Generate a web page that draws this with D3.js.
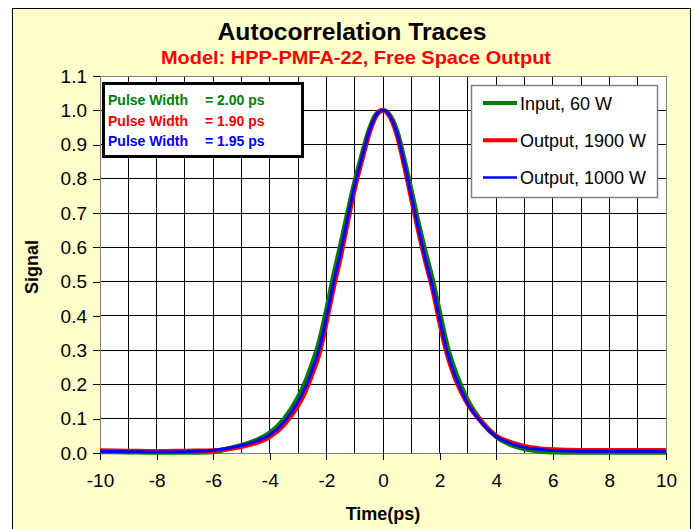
<!DOCTYPE html>
<html>
<head>
<meta charset="utf-8">
<script src="https://cdn.jsdelivr.net/npm/d3@7"></script>
<style>
  body { margin: 0; background: #fff; }
  text { font-family: Arial, 'Liberation Sans', sans-serif; }
</style>
</head>
<body>
<script>
var times = [-10, -9, -8, -7, -6, -5.5, -5, -4.5, -4, -3.5, -3, -2.75, -2.5, -2.25, -2, -1.75, -1.5, -1.25, -1, -0.75, -0.5, -0.25,
    0, 0.25, 0.5, 0.75, 1, 1.25, 1.5, 1.75, 2, 2.25, 2.5, 2.75, 3, 3.5, 4, 4.5, 5, 5.5, 6, 7, 8, 9, 10];

var inputSignal = [0.004, 0.003, 0.002, 0.002, 0.004, 0.012, 0.022, 0.036, 0.058, 0.098, 0.162, 0.205, 0.26, 0.325, 0.415, 0.515, 0.605, 0.70, 0.79, 0.868, 0.94, 0.987,
    1.0, 0.984, 0.937, 0.855, 0.765, 0.67, 0.585, 0.505, 0.41, 0.318, 0.25, 0.196, 0.152, 0.09, 0.048, 0.025, 0.012, 0.006, 0.003, 0.002, 0.002, 0.002, 0.002];

var out1900 = [0.007, 0.006, 0.005, 0.006, 0.007, 0.011, 0.018, 0.029, 0.047, 0.082, 0.138, 0.178, 0.23, 0.29, 0.38, 0.48, 0.57, 0.672, 0.77, 0.852, 0.928, 0.982,
    1.0, 0.98, 0.925, 0.838, 0.742, 0.647, 0.558, 0.478, 0.38, 0.292, 0.228, 0.18, 0.142, 0.088, 0.05, 0.032, 0.02, 0.013, 0.01, 0.008, 0.008, 0.008, 0.008];

var out1000 = [0.005, 0.004, 0.003, 0.004, 0.008, 0.014, 0.022, 0.034, 0.053, 0.09, 0.15, 0.19, 0.243, 0.305, 0.395, 0.495, 0.585, 0.685, 0.78, 0.86, 0.935, 0.985,
    1.0, 0.982, 0.93, 0.845, 0.75, 0.655, 0.565, 0.485, 0.39, 0.30, 0.235, 0.185, 0.143, 0.087, 0.048, 0.028, 0.016, 0.011, 0.007, 0.005, 0.005, 0.005, 0.005];

var seriesNames = ['Input, 60 W', 'Output, 1900 W', 'Output, 1000 W'];
var seriesColors = ['#008000', '#ff0000', '#0000ff'];
var seriesWidths = [5, 4.5, 3];
var pulseLabels = ['= 2.00 ps', '= 1.90 ps', '= 1.95 ps'];

var xTicks = [-10, -8, -6, -4, -2, 0, 2, 4, 6, 8, 10];
var yTicks = [0, 0.1, 0.2, 0.3, 0.4, 0.5, 0.6, 0.7, 0.8, 0.9, 1.0, 1.1];

var W = 694, H = 529;
var plotL = 100, plotR = 666, plotT = 76, plotB = 453;

var svg = d3.select('body').append('svg')
    .attr('width', W)
    .attr('height', H);

// chart area background
svg.append('rect')
    .attr('x', 12.5)
    .attr('y', 8.5)
    .attr('width', 678)
    .attr('height', 540)
    .attr('fill', '#ffffcc')
    .attr('stroke', '#000')
    .attr('stroke-width', 1);

var x = d3.scaleLinear().domain([-10, 10]).range([plotL, plotR]);
var y = d3.scaleLinear().domain([0, 1.1]).range([plotB, plotT]);

svg.append('rect')
    .attr('x', plotL)
    .attr('y', plotT)
    .attr('width', plotR - plotL)
    .attr('height', plotB - plotT)
    .attr('fill', '#fff');

// grid: every 1 ps, every 0.1
svg.append('g').selectAll('line')
    .data(d3.range(-9, 10, 1))
    .enter().append('line')
    .attr('x1', function(d) { return x(d); })
    .attr('x2', function(d) { return x(d); })
    .attr('y1', plotT)
    .attr('y2', plotB)
    .attr('stroke', '#000')
    .attr('shape-rendering', 'crispEdges');
svg.append('g').selectAll('line')
    .data(yTicks.slice(1))
    .enter().append('line')
    .attr('x1', plotL)
    .attr('x2', plotR)
    .attr('y1', function(d) { return y(d); })
    .attr('y2', function(d) { return y(d); })
    .attr('stroke', function(d) { return d > 1.05 ? '#808080' : '#000'; })
    .attr('shape-rendering', 'crispEdges');

// axes
var xAxis = d3.axisBottom(x).tickValues(xTicks).tickSize(7).tickPadding(14)
    .tickFormat(function(d) { return String(d); });
var yAxis = d3.axisLeft(y).tickValues(yTicks).tickSize(7).tickPadding(6)
    .tickFormat(function(d) { return d.toFixed(1); });

var gx = svg.append('g')
    .attr('transform', 'translate(0,' + plotB + ')')
    .call(xAxis);
var gy = svg.append('g')
    .attr('transform', 'translate(' + plotL + ',0)')
    .call(yAxis);
[gx, gy].forEach(function(g) {
    g.select('.domain').attr('stroke', '#808080').attr('shape-rendering', 'crispEdges');
    g.selectAll('.tick line').attr('stroke', '#000').attr('shape-rendering', 'crispEdges');
    g.selectAll('.tick text')
        .attr('font-family', 'Arial, Liberation Sans, sans-serif')
        .attr('font-size', 19)
        .attr('fill', '#000');
});

// right edge of plot
svg.append('line')
    .attr('x1', plotR).attr('x2', plotR)
    .attr('y1', plotT).attr('y2', plotB)
    .attr('stroke', '#808080')
    .attr('shape-rendering', 'crispEdges');

// traces
var allSeries = [inputSignal, out1900, out1000];
var line = d3.line()
    .x(function(d, i) { return x(times[i]); })
    .y(function(d) { return y(d); })
    .curve(d3.curveMonotoneX);

svg.append('g').selectAll('path')
    .data(allSeries)
    .enter().append('path')
    .attr('d', function(d) { return line(d); })
    .attr('fill', 'none')
    .attr('stroke', function(d, i) { return seriesColors[i]; })
    .attr('stroke-width', function(d, i) { return seriesWidths[i]; })
    .attr('stroke-linejoin', 'round');

// titles
svg.append('text')
    .attr('x', 352)
    .attr('y', 40)
    .attr('text-anchor', 'middle')
    .attr('font-weight', 'bold')
    .attr('font-size', 23)
    .attr('textLength', 269)
    .attr('lengthAdjust', 'spacingAndGlyphs')
    .text('Autocorrelation Traces');
svg.append('text')
    .attr('x', 356)
    .attr('y', 64)
    .attr('text-anchor', 'middle')
    .attr('font-weight', 'bold')
    .attr('font-size', 19)
    .attr('fill', '#ff0000')
    .attr('textLength', 390)
    .attr('lengthAdjust', 'spacingAndGlyphs')
    .text('Model: HPP-PMFA-22, Free Space Output');

svg.append('text')
    .attr('x', 383)
    .attr('y', 520)
    .attr('text-anchor', 'middle')
    .attr('font-weight', 'bold')
    .attr('font-size', 18)
    .text('Time(ps)');
svg.append('text')
    .attr('transform', 'translate(38,267) rotate(-90)')
    .attr('text-anchor', 'middle')
    .attr('font-weight', 'bold')
    .attr('font-size', 18)
    .text('Signal');

// pulse width box
svg.append('rect')
    .attr('x', 103.5)
    .attr('y', 83.5)
    .attr('width', 199)
    .attr('height', 73)
    .attr('fill', '#fff')
    .attr('stroke', '#000')
    .attr('stroke-width', 3);
var pw = svg.append('g').selectAll('g')
    .data(pulseLabels)
    .enter().append('g')
    .attr('transform', function(d, i) { return 'translate(0,' + (105 + i * 20.5) + ')'; });
pw.append('text')
    .attr('x', 108)
    .attr('font-weight', 'bold')
    .attr('font-size', 14)
    .attr('fill', function(d, i) { return seriesColors[i]; })
    .text('Pulse Width');
pw.append('text')
    .attr('x', 205)
    .attr('font-weight', 'bold')
    .attr('font-size', 14)
    .attr('fill', function(d, i) { return seriesColors[i]; })
    .text(function(d) { return d; });

// series legend
svg.append('rect')
    .attr('x', 471.5)
    .attr('y', 85.5)
    .attr('width', 186)
    .attr('height', 112)
    .attr('fill', '#fff')
    .attr('stroke', '#808080')
    .attr('stroke-width', 1.5);
var lg = svg.append('g').selectAll('g')
    .data(seriesNames)
    .enter().append('g')
    .attr('transform', function(d, i) { return 'translate(0,' + (103 + i * 37.3) + ')'; });
lg.append('line')
    .attr('x1', 483)
    .attr('x2', 517)
    .attr('stroke', function(d, i) { return seriesColors[i]; })
    .attr('stroke-width', function(d, i) { return i == 2 ? 2.5 : 4; });
lg.append('text')
    .attr('x', 520)
    .attr('y', 6.5)
    .attr('font-size', 18)
    .text(function(d) { return d; });
</script>
</body>
</html>
